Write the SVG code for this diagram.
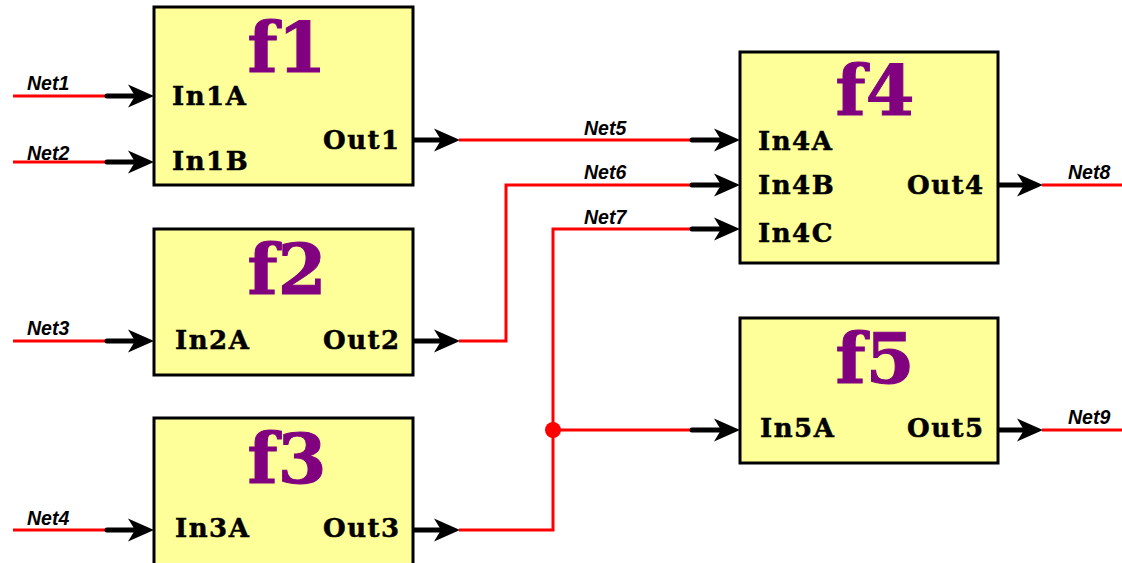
<svg xmlns="http://www.w3.org/2000/svg" xmlns:xlink="http://www.w3.org/1999/xlink" width="1122" height="563" viewBox="0 0 1122 563">
<style>
.box{fill:#ffff99;stroke:#000;stroke-width:3}
.title{font-family:"DejaVu Serif",serif;font-weight:bold;font-size:70px;fill:#800080;text-anchor:middle;stroke:#800080;stroke-width:1}
.port{font-family:"DejaVu Serif",serif;font-weight:bold;font-size:26px;letter-spacing:1.5px;fill:#000;stroke:#000;stroke-width:0.5}
.net{fill:none;stroke:#ff0000;stroke-width:3}
.stub{stroke:#000;stroke-width:5;stroke-linecap:round}
.nl{font-family:"Liberation Sans",Arial,sans-serif;font-weight:bold;font-style:italic;font-size:19.5px;fill:#000}
</style>
<defs>
<path id="ah" d="M0,0 L-26,-11.5 L-19,0 L-26,11.5 Z" fill="#000"/>
</defs>
<g id="connectors">
<path class="net" d="M13,96 H107"/><path class="stub" d="M107,96 H134"/><use xlink:href="#ah" x="154" y="96"/>
<path class="net" d="M13,162 H107"/><path class="stub" d="M107,162 H134"/><use xlink:href="#ah" x="154" y="162"/>
<path class="net" d="M13,341 H107"/><path class="stub" d="M107,341 H134"/><use xlink:href="#ah" x="154" y="341"/>
<path class="net" d="M13,530 H107"/><path class="stub" d="M107,530 H134"/><use xlink:href="#ah" x="154" y="530"/>
<path class="stub" d="M413,140 H440"/><use xlink:href="#ah" x="460" y="140"/>
<path class="net" d="M459,140 H692"/><path class="stub" d="M692,140 H720"/><use xlink:href="#ah" x="740" y="140"/>
<path class="stub" d="M413,341 H440"/><use xlink:href="#ah" x="460" y="341"/>
<path class="net" d="M459,341 H506 V185 H692"/><path class="stub" d="M692,185 H720"/><use xlink:href="#ah" x="740" y="185"/>
<path class="stub" d="M413,530 H440"/><use xlink:href="#ah" x="460" y="530"/>
<path class="net" d="M459,530 H553 V229 H692"/><path class="stub" d="M692,229 H720"/><use xlink:href="#ah" x="740" y="229"/>
<path class="net" d="M553,430 H692"/><path class="stub" d="M692,430 H720"/><use xlink:href="#ah" x="740" y="430"/>
<circle cx="553" cy="430" r="8" fill="#ff0000"/>
<path class="stub" d="M998,185 H1023"/><use xlink:href="#ah" x="1043" y="185"/>
<path class="net" d="M1042,185 H1122"/>
<path class="stub" d="M998,430 H1023"/><use xlink:href="#ah" x="1043" y="430"/>
<path class="net" d="M1042,430 H1122"/>
<text class="nl" x="27" y="90">Net1</text>
<text class="nl" x="27" y="160">Net2</text>
<text class="nl" x="27" y="335">Net3</text>
<text class="nl" x="27" y="525">Net4</text>
<text class="nl" x="584" y="135">Net5</text>
<text class="nl" x="584" y="179">Net6</text>
<text class="nl" x="584" y="224">Net7</text>
<text class="nl" x="1068" y="179">Net8</text>
<text class="nl" x="1068" y="424">Net9</text>
</g>
<g id="f1">
<rect class="box" x="154" y="7" width="259" height="178"/>
<text class="title" x="287" y="72">f1</text>
<text class="port" x="172" y="105">In1A</text>
<text class="port" x="172" y="170">In1B</text>
<text class="port" x="323" y="149">Out1</text>
</g>
<g id="f2">
<rect class="box" x="154" y="229" width="259" height="146"/>
<text class="title" x="287" y="294">f2</text>
<text class="port" x="175" y="349">In2A</text>
<text class="port" x="323" y="349">Out2</text>
</g>
<g id="f3">
<rect class="box" x="154" y="418" width="259" height="150"/>
<text class="title" x="287" y="483">f3</text>
<text class="port" x="175" y="537">In3A</text>
<text class="port" x="323" y="537">Out3</text>
</g>
<g id="f4">
<rect class="box" x="740" y="52" width="258" height="211"/>
<text class="title" x="875" y="115">f4</text>
<text class="port" x="758" y="150">In4A</text>
<text class="port" x="758" y="194">In4B</text>
<text class="port" x="758" y="242">In4C</text>
<text class="port" x="907" y="194">Out4</text>
</g>
<g id="f5">
<rect class="box" x="740" y="318" width="258" height="145"/>
<text class="title" x="875" y="383">f5</text>
<text class="port" x="760" y="437">In5A</text>
<text class="port" x="907" y="437">Out5</text>
</g>
</svg>
